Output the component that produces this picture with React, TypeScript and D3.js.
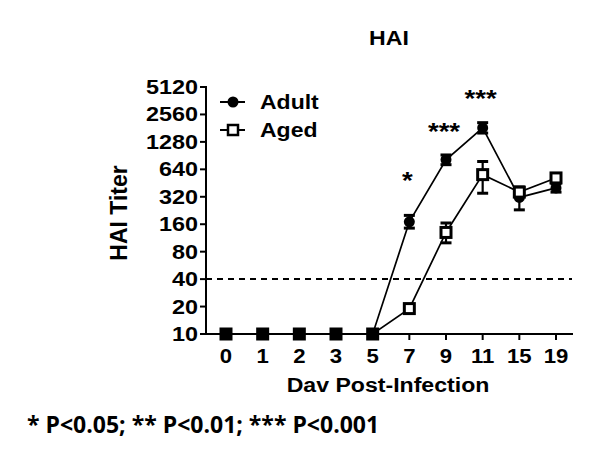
import React from "react";
import * as d3 from "d3";

const days = ["0", "1", "2", "3", "5", "7", "9", "11", "15", "19"];
const adultMean = [10, 10, 10, 10, 10, 170, 815, 1820, 315, 400];
const adultLow = [10, 10, 10, 10, 10, 145, 720, 1600, 230, 360];
const adultHigh = [10, 10, 10, 10, 10, 200, 920, 2080, 410, 445];
const agedMean = [10, 10, 10, 10, 10, 19, 130, 560, 360, 515];
const agedLow = [10, 10, 10, 10, 10, 17, 100, 350, 330, 475];
const agedHigh = [10, 10, 10, 10, 10, 21, 165, 780, 390, 555];
const yTicks = [10, 20, 40, 80, 160, 320, 640, 1280, 2560, 5120];
const signif = [
  { day: "7", label: "*", value: 390 },
  { day: "9", label: "***", value: 1340 },
  { day: "11", label: "***", value: 3090 },
];
const limitValue = 40;

const font = "'Liberation Sans', Arial, sans-serif";

function T(props: {
  x: number;
  y: number;
  size: number;
  sx?: number;
  anchor?: string;
  dy?: string;
  children: React.ReactNode;
  family?: string;
}) {
  const sx = props.sx ?? 1;
  return (
    <text
      transform={`translate(${props.x},${props.y}) scale(${sx},1)`}
      textAnchor={props.anchor ?? "start"}
      dy={props.dy}
      fontFamily={props.family ?? font}
      fontWeight="bold"
      fontSize={props.size}
      fill="#000"
    >
      {props.children}
    </text>
  );
}

export default function App() {
  const width = 600;
  const height = 458;
  const axisX = 206;
  const x = d3.scalePoint<string>().domain(days).range([226, 556]);
  const y = d3.scaleLog().base(2).domain([10, 5120]).range([334, 87]);
  const line = d3
    .line<number>()
    .x((_, i) => x(days[i])!)
    .y((d) => y(d));
  const bar = (i: number, lo: number, hi: number, key: string) => {
    const cx = x(days[i])!;
    if (lo === hi) return null;
    return (
      <g key={key}>
        <line x1={cx} x2={cx} y1={y(lo)} y2={y(hi)} stroke="#000" strokeWidth={2.2} />
        <line x1={cx - 5.5} x2={cx + 5.5} y1={y(lo)} y2={y(lo)} stroke="#000" strokeWidth={3} />
        <line x1={cx - 5.5} x2={cx + 5.5} y1={y(hi)} y2={y(hi)} stroke="#000" strokeWidth={3} />
      </g>
    );
  };
  return (
    <svg width={width} height={height} style={{ position: "absolute", left: 0, top: 0 }}>
      <rect width={width} height={height} fill="#fff" />
      <T x={389} y={45} size={21} sx={1.1} anchor="middle">
        HAI
      </T>
      {/* dashed limit line */}
      <line
        x1={axisX}
        x2={572}
        y1={y(limitValue)}
        y2={y(limitValue)}
        stroke="#000"
        strokeWidth={2}
        strokeDasharray="6,5"
      />
      {/* y axis */}
      <line x1={axisX} x2={axisX} y1={86} y2={335} stroke="#000" strokeWidth={2} />
      {yTicks.map((t) => (
        <g key={"yt" + t}>
          <line x1={axisX - 6} x2={axisX} y1={y(t)} y2={y(t)} stroke="#000" strokeWidth={2} />
          <T x={axisX - 8} y={y(t)} dy="0.36em" anchor="end" size={19.5} sx={1.2}>
            {t}
          </T>
        </g>
      ))}
      {/* x axis */}
      <line x1={axisX - 1} x2={573} y1={334} y2={334} stroke="#000" strokeWidth={2} />
      {days.map((d) => (
        <g key={"xt" + d}>
          <line x1={x(d)!} x2={x(d)!} y1={334} y2={340} stroke="#000" strokeWidth={2} />
          <T x={x(d)!} y={363} anchor="middle" size={20.5} sx={1.08}>
            {d}
          </T>
        </g>
      ))}
      <T x={388} y={392} anchor="middle" size={21} sx={1.1}>
        Dav Post-Infection
      </T>
      <text
        transform={`translate(127,213) rotate(-90)`}
        textAnchor="middle"
        fontFamily={font}
        fontWeight="bold"
        fontSize={23}
      >
        HAI Titer
      </text>
      {/* error bars */}
      {adultMean.map((_, i) => bar(i, adultLow[i], adultHigh[i], "ab" + i))}
      {agedMean.map((_, i) => bar(i, agedLow[i], agedHigh[i], "gb" + i))}
      {/* lines */}
      <path d={line(adultMean)!} fill="none" stroke="#000" strokeWidth={1.7} />
      <path d={line(agedMean)!} fill="none" stroke="#000" strokeWidth={1.7} />
      {/* markers */}
      {adultMean.map((v, i) => (
        <circle key={"am" + i} cx={x(days[i])!} cy={y(v)} r={5.5} fill="#000" />
      ))}
      {agedMean.map((v, i) => {
        const full = v <= 10;
        const s = full ? 13 : 10;
        return (
          <rect
            key={"gm" + i}
            x={x(days[i])! - s / 2}
            y={y(v) - s / 2}
            width={s}
            height={s}
            fill={full ? "#000" : "#fff"}
            stroke="#000"
            strokeWidth={full ? 0 : 3}
          />
        );
      })}
      {/* significance */}
      {signif.map((s) => (
        <T key={"s" + s.day} x={x(s.day)! - 2} y={y(s.value)} anchor="middle" size={24} sx={1.15}>
          {s.label}
        </T>
      ))}
      {/* legend */}
      <g>
        <line x1={220} x2={245} y1={102} y2={102} stroke="#000" strokeWidth={2} />
        <circle cx={233} cy={102} r={5.5} fill="#000" />
        <T x={260} y={102} dy="0.36em" size={20} sx={1.15}>
          Adult
        </T>
        <line x1={220} x2={245} y1={130} y2={130} stroke="#000" strokeWidth={2} />
        <rect x={228} y={125} width={10} height={10} fill="#fff" stroke="#000" strokeWidth={2.5} />
        <T x={260} y={130} dy="0.36em" size={20} sx={1.15}>
          Aged
        </T>
      </g>
      <T x={27} y={433} size={23} family="'Open Sans', 'Liberation Sans', sans-serif">
        * P&lt;0.05; ** P&lt;0.01; *** P&lt;0.001
      </T>
    </svg>
  );
}
